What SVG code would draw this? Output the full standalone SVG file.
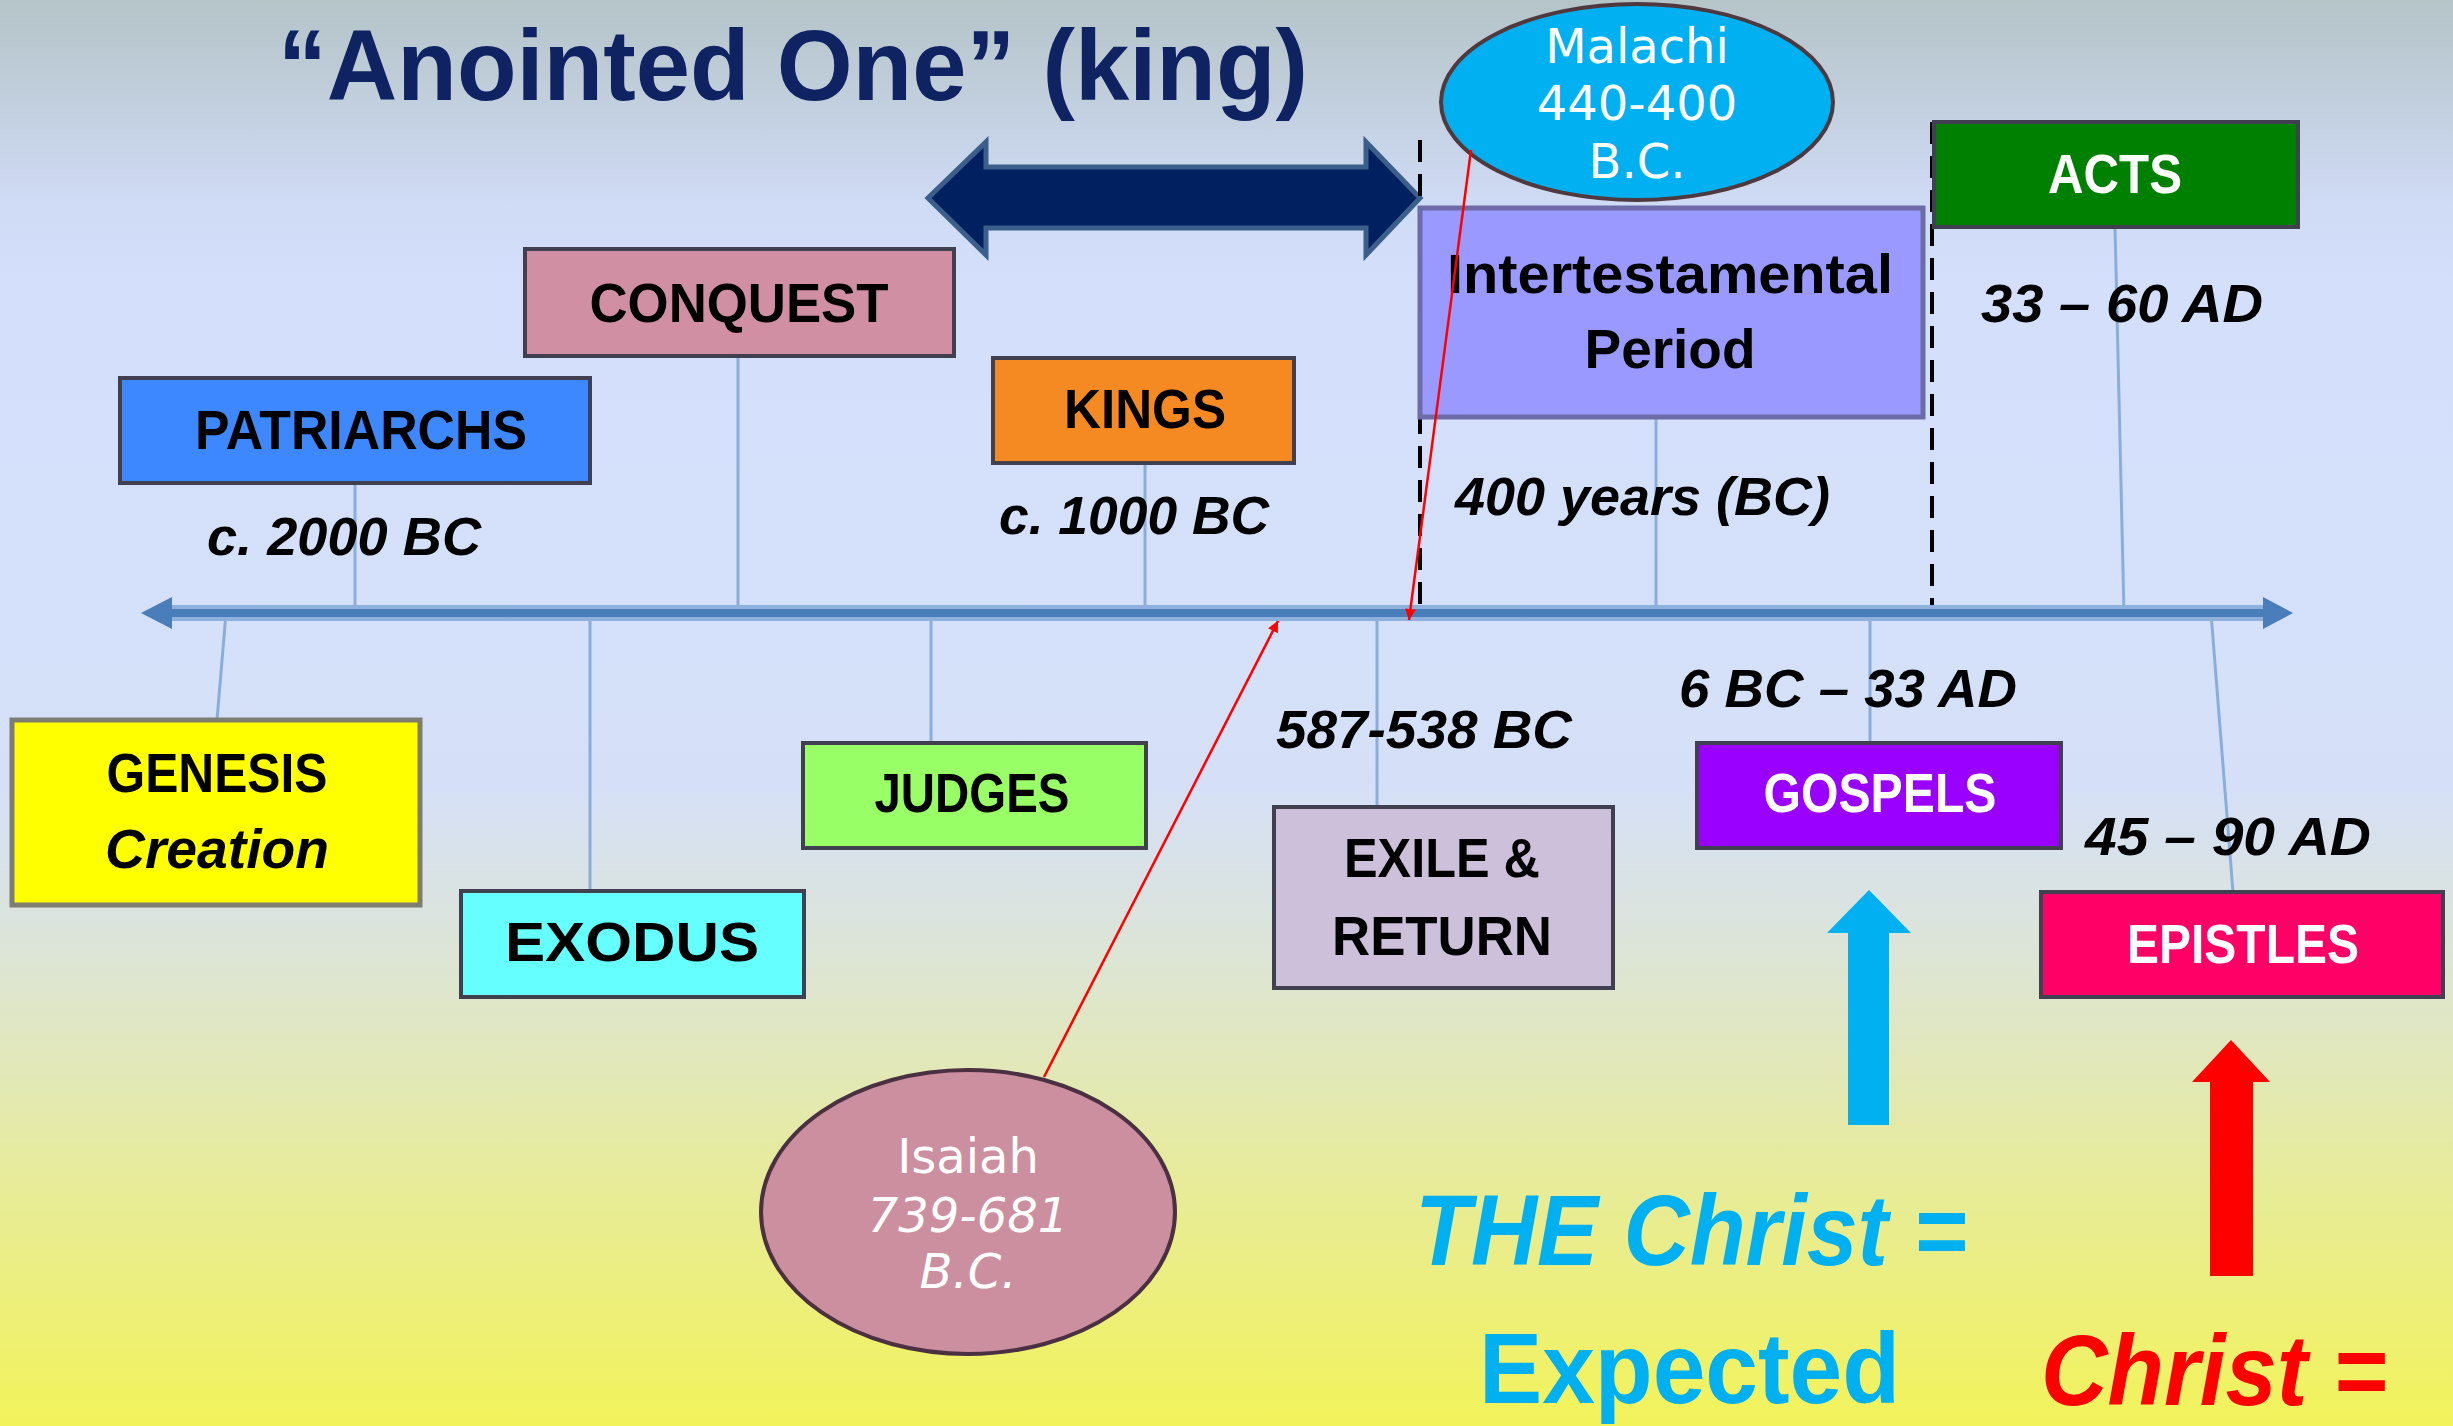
<svg xmlns="http://www.w3.org/2000/svg" width="2453" height="1426" viewBox="0 0 2453 1426">
<defs>
<linearGradient id="bg" x1="0" y1="0" x2="0" y2="1">
<stop offset="0" stop-color="#b4c4c7"/>
<stop offset="0.14" stop-color="#cfdaf4"/>
<stop offset="0.2" stop-color="#d4dffc"/>
<stop offset="0.55" stop-color="#d5e0f8"/>
<stop offset="0.68" stop-color="#dde5d2"/>
<stop offset="0.8" stop-color="#e5eaa4"/>
<stop offset="1" stop-color="#f2f35a"/>
</linearGradient>
<marker id="redhead" viewBox="0 0 10 10" refX="10" refY="5" markerWidth="13" markerHeight="11" orient="auto" markerUnits="userSpaceOnUse">
<path d="M0,0 L10,5 L0,10 Z" fill="#ff0000"/>
</marker>
<style>
.box{stroke:#404050;stroke-width:4}
.lbl{font-family:"Liberation Sans",Arial,sans-serif;font-weight:bold;font-size:56px;text-anchor:middle}
.date{font-family:"Liberation Sans",Arial,sans-serif;font-weight:bold;font-style:italic;font-size:54px;fill:#000}
.conn{stroke:#8aaedc;stroke-width:3;fill:none}
.oval{font-family:"DejaVu Sans",Verdana,sans-serif;font-size:48px;fill:#fff;text-anchor:middle}
.big{font-family:"Liberation Sans",Arial,sans-serif;font-weight:bold;font-size:100px}
.red{stroke:#ff0000;stroke-width:2.5;fill:none}
</style>
</defs>
<rect x="0" y="0" width="2453" height="1426" fill="url(#bg)"/>

<text id="title" x="278" y="100" class="big" fill="#0f2363" textLength="1030" lengthAdjust="spacingAndGlyphs">“Anointed One” (king)</text>

<g id="double-arrow">
<path d="M928,198 L986,142 L986,167 L1366,167 L1366,142 L1420,198 L1366,255 L1366,228 L986,228 L986,255 Z" fill="#002060" stroke="#3b5f8a" stroke-width="5" stroke-linejoin="miter"/>
</g>

<g id="dashed-lines" stroke="#000" stroke-width="4" stroke-dasharray="22 12">
<line x1="1420" y1="140" x2="1420" y2="612"/>
<line x1="1932" y1="122" x2="1932" y2="612"/>
</g>

<g id="connectors">
<line class="conn" x1="355" y1="483" x2="355" y2="613"/>
<line class="conn" x1="738" y1="356" x2="738" y2="613"/>
<line class="conn" x1="1145" y1="463" x2="1145" y2="613"/>
<line class="conn" x1="1656" y1="418" x2="1656" y2="613"/>
<line class="conn" x1="2115" y1="227" x2="2124" y2="613"/>
<line class="conn" x1="226" y1="613" x2="217" y2="720"/>
<line class="conn" x1="590" y1="613" x2="590" y2="891"/>
<line class="conn" x1="931" y1="613" x2="931" y2="743"/>
<line class="conn" x1="1377" y1="613" x2="1377" y2="807"/>
<line class="conn" x1="1870" y1="613" x2="1870" y2="743"/>
<line class="conn" x1="2211" y1="613" x2="2233" y2="892"/>
</g>

<g id="axis">
<line x1="165" y1="613" x2="2268" y2="613" stroke="#8eb0dd" stroke-width="16"/>
<line x1="165" y1="613" x2="2268" y2="613" stroke="#4a7ebb" stroke-width="8"/>
<path d="M141,613 L172,597 L172,629 Z" fill="#4a7ebb"/>
<path d="M2293,613 L2263,597 L2263,629 Z" fill="#4a7ebb"/>
</g>

<g id="patriarchs">
<rect class="box" x="120" y="378" width="470" height="105" fill="#3d87ff" stroke="#2a3050"/>
<text class="lbl" x="361" y="449" textLength="332" lengthAdjust="spacingAndGlyphs">PATRIARCHS</text>
</g>
<g id="conquest">
<rect class="box" x="525" y="249" width="429" height="107" fill="#d08fa3" stroke="#4a3a42"/>
<text class="lbl" x="739" y="322" textLength="299" lengthAdjust="spacingAndGlyphs">CONQUEST</text>
</g>
<g id="kings">
<rect class="box" x="993" y="358" width="301" height="105" fill="#f58a22" stroke="#5a3010"/>
<text class="lbl" x="1145" y="428" textLength="162" lengthAdjust="spacingAndGlyphs">KINGS</text>
</g>
<g id="genesis">
<rect x="12" y="720" width="408" height="185" fill="#ffff00" stroke="#7d7d70" stroke-width="5"/>
<text class="lbl" x="217" y="792" textLength="221" lengthAdjust="spacingAndGlyphs">GENESIS</text>
<text class="lbl" x="217" y="868" font-style="italic" textLength="224" lengthAdjust="spacingAndGlyphs">Creation</text>
</g>
<g id="exodus">
<rect class="box" x="461" y="891" width="343" height="106" fill="#66ffff" stroke="#3a5a5a"/>
<text class="lbl" x="632" y="961" textLength="254" lengthAdjust="spacingAndGlyphs">EXODUS</text>
</g>
<g id="judges">
<rect class="box" x="803" y="743" width="343" height="105" fill="#99ff66" stroke="#2a4a2a"/>
<text class="lbl" x="972" y="812" textLength="195" lengthAdjust="spacingAndGlyphs">JUDGES</text>
</g>
<g id="exile">
<rect class="box" x="1274" y="807" width="339" height="181" fill="#ccc0da" stroke="#3a3a3a"/>
<text class="lbl" x="1442" y="877" textLength="196" lengthAdjust="spacingAndGlyphs">EXILE &amp;</text>
<text class="lbl" x="1442" y="955" textLength="220" lengthAdjust="spacingAndGlyphs">RETURN</text>
</g>
<g id="intertestamental">
<rect x="1420" y="208" width="503" height="209" fill="#9999ff" stroke="#6c6ca8" stroke-width="5"/>
<text class="lbl" x="1670" y="293" textLength="446" lengthAdjust="spacingAndGlyphs">Intertestamental</text>
<text class="lbl" x="1670" y="368" textLength="171" lengthAdjust="spacingAndGlyphs">Period</text>
</g>
<g id="acts">
<rect class="box" x="1934" y="122" width="364" height="105" fill="#008000" stroke="#303a30"/>
<text class="lbl" x="2115" y="193" fill="#fff" textLength="134" lengthAdjust="spacingAndGlyphs">ACTS</text>
</g>
<g id="gospels">
<rect class="box" x="1697" y="743" width="364" height="105" fill="#9900ff" stroke="#2a2040"/>
<text class="lbl" x="1880" y="812" fill="#fff" textLength="233" lengthAdjust="spacingAndGlyphs">GOSPELS</text>
</g>
<g id="epistles">
<rect class="box" x="2041" y="892" width="402" height="105" fill="#ff0066" stroke="#3a2a30"/>
<text class="lbl" x="2243" y="963" fill="#fff" textLength="232" lengthAdjust="spacingAndGlyphs">EPISTLES</text>
</g>

<g id="dates">
<text class="date" x="207" y="555" textLength="274" lengthAdjust="spacingAndGlyphs">c. 2000 BC</text>
<text class="date" x="999" y="534" textLength="270" lengthAdjust="spacingAndGlyphs">c. 1000 BC</text>
<text class="date" x="1455" y="515" textLength="375" lengthAdjust="spacingAndGlyphs">400 years (BC)</text>
<text class="date" x="1981" y="322" textLength="282" lengthAdjust="spacingAndGlyphs">33 – 60 AD</text>
<text class="date" x="1276" y="748" textLength="296" lengthAdjust="spacingAndGlyphs">587-538 BC</text>
<text class="date" x="1679" y="707" textLength="338" lengthAdjust="spacingAndGlyphs">6 BC – 33 AD</text>
<text class="date" x="2085" y="855" textLength="286" lengthAdjust="spacingAndGlyphs">45 – 90 AD</text>
</g>

<g id="malachi">
<ellipse cx="1637" cy="102" rx="196" ry="98" fill="#00b0f0" stroke="#50383f" stroke-width="4"/>
<text class="oval" x="1637" y="63">Malachi</text>
<text class="oval" x="1637" y="120">440-400</text>
<text class="oval" x="1637" y="178">B.C.</text>
</g>

<g id="isaiah">
<ellipse cx="968" cy="1212" rx="207" ry="142" fill="#cc8f9f" stroke="#4a3040" stroke-width="4"/>
<text class="oval" x="968" y="1173">Isaiah</text>
<text class="oval" x="968" y="1232" font-style="italic">739-681</text>
<text class="oval" x="968" y="1288" font-style="italic">B.C.</text>
</g>

<g id="pointers">
<line class="red" x1="1044" y1="1077" x2="1278" y2="621" marker-end="url(#redhead)"/>
<line class="red" x1="1471" y1="150" x2="1409" y2="620" marker-end="url(#redhead)"/>
</g>

<g id="blue-arrow">
<path d="M1869,890 L1911,933 L1889,933 L1889,1125 L1848,1125 L1848,933 L1827,933 Z" fill="#00b0f0"/>
</g>
<g id="red-arrow">
<path d="M2231,1040 L2270,1082 L2253,1082 L2253,1276 L2210,1276 L2210,1082 L2192,1082 Z" fill="#ff0000"/>
</g>

<g id="christ-labels">
<text class="big" x="1415" y="1265" fill="#00b0f0" font-style="italic" textLength="552" lengthAdjust="spacingAndGlyphs">THE Christ =</text>
<text class="big" x="1479" y="1403" fill="#00b0f0" textLength="421" lengthAdjust="spacingAndGlyphs">Expected</text>
<text class="big" x="2041" y="1405" fill="#ff0000" font-style="italic" textLength="346" lengthAdjust="spacingAndGlyphs">Christ =</text>
</g>
</svg>
